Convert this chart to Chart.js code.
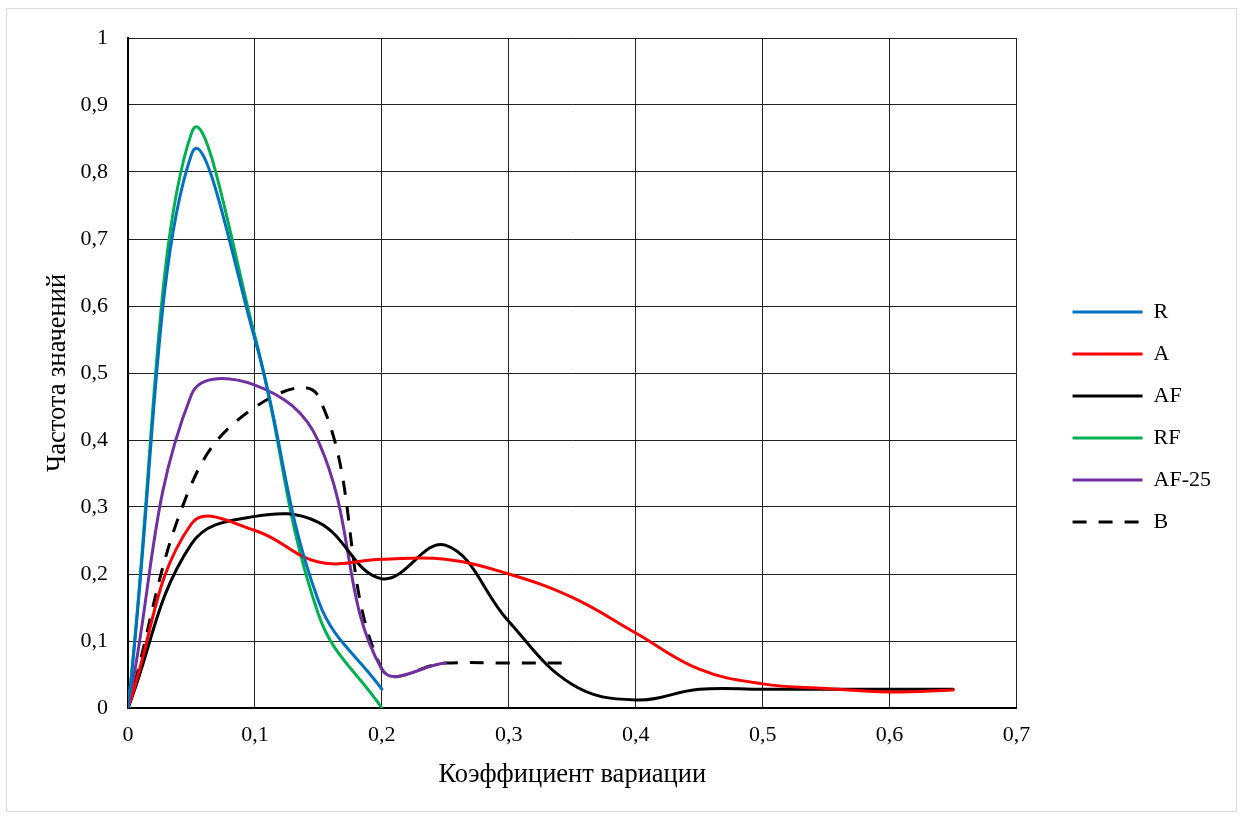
<!DOCTYPE html>
<html>
<head>
<meta charset="utf-8">
<script src="https://cdn.jsdelivr.net/npm/chart.js@4.4.1/dist/chart.umd.min.js"></script>
<style>
  html, body { margin: 0; padding: 0; background: #ffffff; }
  #wrap { position: relative; width: 1241px; height: 816px; }
  canvas { display: block; }
</style>
</head>
<body>
<div id="wrap"><canvas id="c" width="1241" height="816"></canvas></div>
<script>
// ---- data ----
const xValues = [0, 0.05, 0.1, 0.15, 0.2, 0.25, 0.3, 0.35, 0.4, 0.45, 0.5, 0.55, 0.6, 0.65];
const seriesNames = ["R", "A", "AF", "RF", "AF-25", "B"];
const valuesR    = [0, 0.826, 0.55, 0.16, 0.028];
const valuesA    = [0, 0.275, 0.265, 0.218, 0.222, 0.222, 0.2, 0.165, 0.112, 0.058, 0.036, 0.029, 0.024, 0.027];
const valuesAF   = [0, 0.245, 0.286, 0.277, 0.193, 0.243, 0.129, 0.035, 0.012, 0.028, 0.028, 0.028, 0.028, 0.028];
const valuesRF   = [0, 0.858, 0.555, 0.14, 0];
const valuesAF25 = [0, 0.468, 0.482, 0.398, 0.058, 0.067];
const valuesB    = [0, 0.334, 0.449, 0.465, 0.058, 0.067, 0.067, 0.067];
const xTicks = [0, 0.1, 0.2, 0.3, 0.4, 0.5, 0.6, 0.7];
const yTicks = [0, 0.1, 0.2, 0.3, 0.4, 0.5, 0.6, 0.7, 0.8, 0.9, 1];
const xTitle = "Коэффициент вариации";
const yTitle = "Частота значений";

const colors = ["#0070C0", "#FF0000", "#000000", "#00B050", "#7030A0", "#000000"];
const allValues = [valuesR, valuesA, valuesAF, valuesRF, valuesAF25, valuesB];

function toPoints(vals) { return vals.map((v, i) => ({ x: xValues[i], y: v })); }
function fmt(v) { return String(Math.round(v * 10) / 10).replace('.', ','); }

const FONT = "'Liberation Serif', 'Times New Roman', serif";

const frame = {
  id: 'frame',
  beforeDraw(chart) {
    const ctx = chart.ctx;
    ctx.save();
    ctx.strokeStyle = '#d9d9d9';
    ctx.lineWidth = 1;
    ctx.strokeRect(6.5, 8.5, 1230, 803);
    ctx.restore();
  },
  afterLayout(chart) {
    const lg = chart.legend;
    if (lg) {
      const dx = 36, dy = -10;
      lg.left += dx; lg.right += dx;
      lg.top += dy; lg.bottom += dy;
    }
  }
};

const datasets = seriesNames.map((name, k) => ({
  label: name,
  data: toPoints(allValues[k]),
  borderColor: colors[k],
  backgroundColor: colors[k],
  borderWidth: 3,
  borderDash: name === "B" ? [14, 12] : [],
  borderCapStyle: name === "B" ? 'butt' : 'round',
  pointRadius: 0,
  pointHoverRadius: 0,
  tension: 0.4,
  fill: false
}));

new Chart(document.getElementById('c'), {
  type: 'line',
  data: { datasets },
  plugins: [frame],
  options: {
    responsive: false,
    animation: false,
    events: [],
    layout: { padding: { left: 0, top: 38, right: 56, bottom: 0 } },
    plugins: {
      tooltip: { enabled: false },
      legend: {
        position: 'right',
        align: 'center',
        labels: {
          usePointStyle: true,
          pointStyle: 'line',
          pointStyleWidth: 70,
          boxHeight: 22,
          padding: 20,
          color: '#000',
          font: { family: FONT, size: 22 },
          generateLabels(chart) {
            const base = Chart.defaults.plugins.legend.labels.generateLabels(chart);
            return base.map(l => {
              const ds = chart.data.datasets[l.datasetIndex];
              return Object.assign({}, l, {
                lineDash: ds.borderDash,
                lineCap: 'butt',
                lineWidth: 3,
                strokeStyle: ds.borderColor,
                fillStyle: ds.borderColor
              });
            });
          }
        }
      }
    },
    scales: {
      x: {
        type: 'linear',
        min: 0, max: 0.7,
        afterBuildTicks(s) { s.ticks = xTicks.map(v => ({ value: v })); },
        afterFit(s) { s.height = 816 - 708; },
        grid: { color: '#222', lineWidth: 1, drawTicks: false },
        border: { color: '#000', width: 2 },
        ticks: { color: '#000', font: { family: FONT, size: 22 }, padding: 14, maxRotation: 0, callback: v => fmt(v) },
        title: { display: true, text: xTitle, color: '#000', font: { family: FONT, size: 26.5 }, padding: { top: 8, bottom: 25 } }
      },
      y: {
        type: 'linear',
        min: 0, max: 1,
        afterBuildTicks(s) { s.ticks = yTicks.map(v => ({ value: v })); },
        afterFit(s) { s.width = 128; },
        grid: { color: '#222', lineWidth: 1, drawTicks: false },
        border: { color: '#000', width: 2 },
        ticks: { color: '#000', font: { family: FONT, size: 22 }, padding: 20, callback: v => fmt(v) },
        title: { display: true, text: yTitle, color: '#000', font: { family: FONT, size: 26.5 }, padding: { top: 42, bottom: 4 } }
      }
    }
  }
});
</script>
</body>
</html>
